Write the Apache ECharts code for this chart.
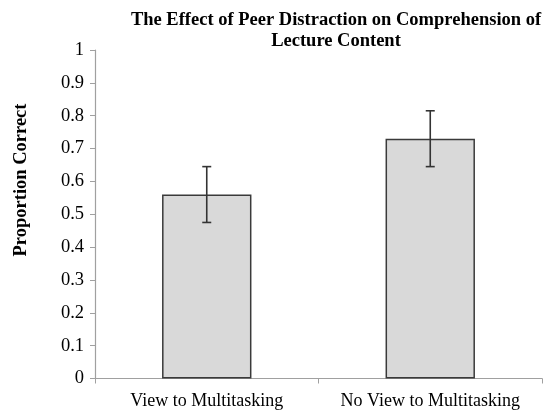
<!DOCTYPE html>
<html><head><meta charset="utf-8">
<script src="https://cdn.jsdelivr.net/npm/echarts@6/dist/echarts.min.js"></script>
<style>html,body{margin:0;padding:0;background:#fff}#c{width:543px;height:414px}</style>
</head><body><div id="c"></div>
<script>
var categories = ['View to Multitasking', 'No View to Multitasking'];
var values = [0.56, 0.73];
var errors = [0.085, 0.085];
var yTicks = [0, 0.1, 0.2, 0.3, 0.4, 0.5, 0.6, 0.7, 0.8, 0.9, 1];

var chart = echarts.init(document.getElementById('c'));
var serif = '"Liberation Serif", "Times New Roman", serif';
chart.setOption({
  animation: false,
  title: {
    text: 'The Effect of Peer Distraction on Comprehension of\nLecture Content',
    left: 331, top: 5, textAlign: 'center',
    textStyle: {fontFamily: serif, fontWeight: 'bold', fontSize: 18.5, lineHeight: 21, color: '#000'}
  },
  graphic: [{
    type: 'text', x: 21, y: 180, rotation: Math.PI / 2,
    style: {text: 'Proportion Correct', fontFamily: serif, fontWeight: 'bold', fontSize: 18.5, fill: '#000',
      align: 'center', verticalAlign: 'middle'}
  }],
  grid: {left: 95, right: 1, top: 50, bottom: 35.5, containLabel: false},
  xAxis: {
    type: 'category', data: categories,
    axisLine: {lineStyle: {color: '#a0a0a0', width: 1.2}},
    axisTick: {show: true, length: 5, lineStyle: {color: '#a0a0a0'}},
    axisLabel: {fontFamily: serif, fontSize: 18, color: '#000', margin: 14, interval: 0}
  },
  yAxis: {
    type: 'value', min: 0, max: 1, interval: 0.1,
    axisLine: {show: true, lineStyle: {color: '#a0a0a0', width: 1.2}},
    axisTick: {show: true, length: 5, lineStyle: {color: '#a0a0a0'}},
    splitLine: {show: false},
    axisLabel: {fontFamily: serif, fontSize: 18.5, color: '#000', margin: 11,
      formatter: function (v) { var r = Math.round(v * 10) / 10; return yTicks.indexOf(r) >= 0 ? String(r) : ''; }}
  },
  series: [{
    type: 'bar', data: values, barWidth: '40%',
    itemStyle: {color: '#d9d9d9', borderColor: '#3a3a3a', borderWidth: 1.5}
  }, {
    type: 'custom',
    data: values.map(function (v, i) { return [i, v - errors[i], v + errors[i]]; }),
    renderItem: function (params, api) {
      var lo = api.coord([api.value(0), api.value(1)]);
      var hi = api.coord([api.value(0), api.value(2)]);
      var x = lo[0], w = 4.5;
      var st = {stroke: '#333', lineWidth: 1.6};
      return {type: 'group', children: [
        {type: 'line', shape: {x1: x, y1: lo[1], x2: x, y2: hi[1]}, style: st},
        {type: 'line', shape: {x1: x - w, y1: lo[1], x2: x + w, y2: lo[1]}, style: st},
        {type: 'line', shape: {x1: x - w, y1: hi[1], x2: x + w, y2: hi[1]}, style: st}
      ]};
    },
    z: 5
  }]
});
</script></body></html>
